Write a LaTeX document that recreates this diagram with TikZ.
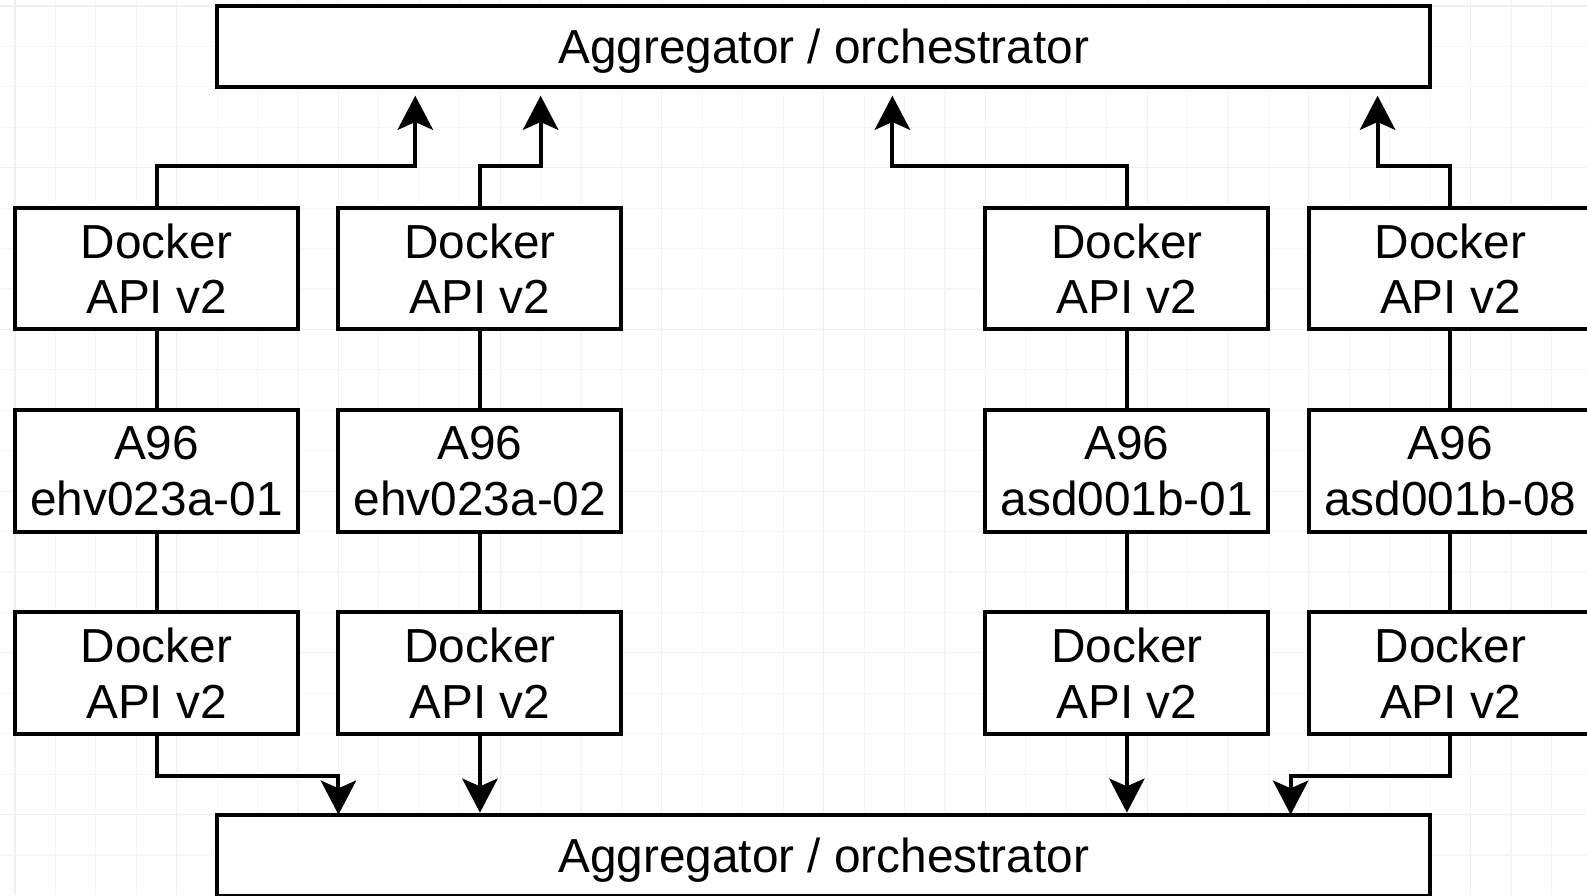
\documentclass[tikz,border=0pt]{standalone}
\usepackage{fontspec}
\setmainfont{Liberation Sans}
\usetikzlibrary{arrows.meta}

\tikzset{
  box/.style={draw, line width=2.8pt, fill=white, minimum width=7cm,
    minimum height=3cm, align=center, font=\fontsize{33.6}{39}\selectfont},
  hub/.style={box, minimum width=30cm, minimum height=2cm,
    text height=1.1cm, text depth=0.25cm},
  link/.style={line width=2.8pt},
  feed/.style={link, -{Stealth[length=0.85cm, width=0.89cm, inset=0.2cm, line width=0pt]}},
}

\begin{document}
\begin{tikzpicture}[x=1cm, y=-1cm]

% Fix the page size
\useasboundingbox (-0.371, -0.148) rectangle (38.88, 21.99);

% Background grid (minor and major lines)
\foreach \i in {0,...,38}
  \draw[gray!7, line width=0.8pt] (\i, -0.148) -- (\i, 21.99);
\foreach \j in {0,...,21}
  \draw[gray!7, line width=0.8pt] (-0.371, \j) -- (38.88, \j);
\foreach \i in {0,4,...,36}
  \draw[gray!12, line width=0.8pt] (\i, -0.148) -- (\i, 21.99);
\foreach \j in {0,4,...,20}
  \draw[gray!12, line width=0.8pt] (-0.371, \j) -- (38.88, \j);

% Aggregators at top and bottom
\node[hub] (AggT) at (20, 1) {Aggregator / orchestrator};
\node[hub] (AggB) at (20, 21) {Aggregator / orchestrator};

% Upper Docker API boxes
\node[box] (T1) at (3.5, 6.5) {Docker\\API v2};
\node[box] (T2) at (11.5, 6.5) {Docker\\API v2};
\node[box] (T3) at (27.5, 6.5) {Docker\\API v2};
\node[box] (T4) at (35.5, 6.5) {Docker\\API v2};

% Hosts
\node[box] (H1) at (3.5, 11.5) {A96\\ehv023a-01};
\node[box] (H2) at (11.5, 11.5) {A96\\ehv023a-02};
\node[box] (H3) at (27.5, 11.5) {A96\\asd001b-01};
\node[box] (H4) at (35.5, 11.5) {A96\\asd001b-08};

% Lower Docker API boxes
\node[box] (B1) at (3.5, 16.5) {Docker\\API v2};
\node[box] (B2) at (11.5, 16.5) {Docker\\API v2};
\node[box] (B3) at (27.5, 16.5) {Docker\\API v2};
\node[box] (B4) at (35.5, 16.5) {Docker\\API v2};

% Plain links between the boxes of a column
\draw[link] (T1) -- (H1) -- (B1);
\draw[link] (T2) -- (H2) -- (B2);
\draw[link] (T3) -- (H3) -- (B3);
\draw[link] (T4) -- (H4) -- (B4);

% Entry points on the aggregators
\coordinate (inT1) at (9.9, 2);
\coordinate (inT2) at (13, 2);
\coordinate (inT3) at (21.7, 2);
\coordinate (inT4) at (33.7, 2);
\coordinate (inB1) at (8, 20);
\coordinate (inB4) at (31.55, 20);

% Arrows up to the top aggregator
\draw[feed, shorten >=0.22cm] (T1.north) -- ++(0, -1) -| (inT1);
\draw[feed, shorten >=0.22cm] (T2.north) -- ++(0, -1) -| (inT2);
\draw[feed, shorten >=0.22cm] (T3.north) -- ++(0, -1) -| (inT3);
\draw[feed, shorten >=0.22cm] (T4.north) -- ++(0, -1) -| (inT4);

% Arrows down to the bottom aggregator
\draw[feed] (B1.south) -- ++(0, 1) -| (inB1);
\draw[feed] (B2.south) -- (B2 |- AggB.north);
\draw[feed] (B3.south) -- (B3 |- AggB.north);
\draw[feed] (B4.south) -- ++(0, 1) -| (inB4);

\end{tikzpicture}
\end{document}
